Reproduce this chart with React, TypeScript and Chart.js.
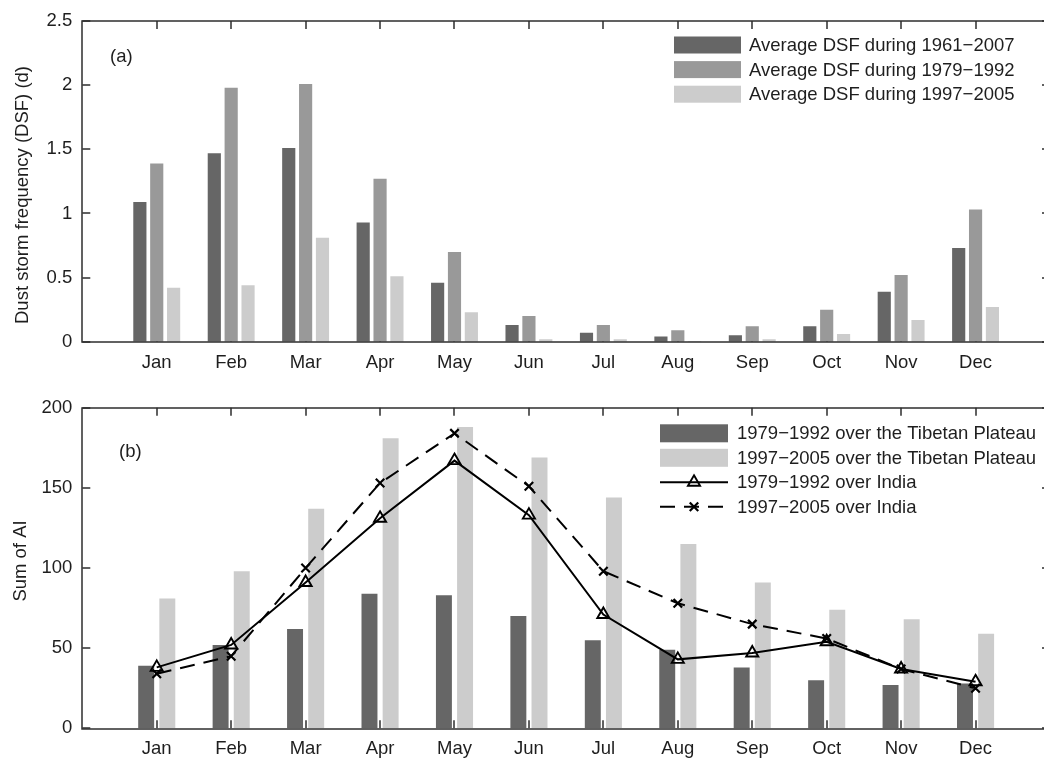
import React, { useEffect, useRef } from 'react';
import { Chart, registerables } from 'chart.js';

Chart.register(...registerables);

// ---------- data ----------
const months = ['Jan', 'Feb', 'Mar', 'Apr', 'May', 'Jun', 'Jul', 'Aug', 'Sep', 'Oct', 'Nov', 'Dec'];
const xLabels = ['', ...months, ''];

// Panel (a): average dust storm frequency (d)
const dsf1961to2007 = [1.09, 1.47, 1.51, 0.93, 0.46, 0.13, 0.07, 0.04, 0.05, 0.12, 0.39, 0.73];
const dsf1979to1992 = [1.39, 1.98, 2.01, 1.27, 0.70, 0.20, 0.13, 0.09, 0.12, 0.25, 0.52, 1.03];
const dsf1997to2005 = [0.42, 0.44, 0.81, 0.51, 0.23, 0.02, 0.02, 0.005, 0.02, 0.06, 0.17, 0.27];
const dsfTickStep = 0.5;
const dsfMax = 2.5;

// Panel (b): sum of AI
const aiTibet1979to1992 = [39, 52, 62, 84, 83, 70, 55, 49, 38, 30, 27, 28];
const aiTibet1997to2005 = [81, 98, 137, 181, 188, 169, 144, 115, 91, 74, 68, 59];
const aiIndia1979to1992 = [38, 52, 91, 131, 167, 133, 71, 43, 47, 54, 37, 29];
const aiIndia1997to2005 = [34, 45, 100, 153, 184, 151, 98, 78, 65, 56, 37, 25];
const aiTickStep = 50;
const aiMax = 200;

const legendA = ['Average DSF during 1961\u22122007', 'Average DSF during 1979\u22121992', 'Average DSF during 1997\u22122005'];
const legendB = ['1979\u22121992 over the Tibetan Plateau', '1997\u22122005 over the Tibetan Plateau', '1979\u22121992 over India', '1997\u22122005 over India'];

// ---------- styles ----------
const FONT = '"Liberation Sans", Arial, Helvetica, sans-serif';
const FONT_SIZE = 18.5;
const TEXT = '#1e1e1e';
const AXIS = '#2e2e2e';
const DARK = '#666666';
const MID = '#999999';
const LIGHT = '#cccccc';
const DASH = [15, 9];
const TICK_LEN = 8;
const AXIS_W = 1.5;

const pad = (arr: number[]) => [null, ...arr, null];

function drawMarker(ctx: CanvasRenderingContext2D, style: string, x: number, y: number, r: number) {
  ctx.beginPath();
  if (style === 'triangle') {
    let rad = 0;
    ctx.moveTo(x + Math.sin(rad) * r, y - Math.cos(rad) * r);
    rad += (2 * Math.PI) / 3;
    ctx.lineTo(x + Math.sin(rad) * r, y - Math.cos(rad) * r);
    rad += (2 * Math.PI) / 3;
    ctx.lineTo(x + Math.sin(rad) * r, y - Math.cos(rad) * r);
    ctx.closePath();
  } else {
    const o = Math.cos(Math.PI / 4) * r;
    ctx.moveTo(x - o, y - o);
    ctx.lineTo(x + o, y + o);
    ctx.moveTo(x + o, y - o);
    ctx.lineTo(x - o, y + o);
  }
  ctx.stroke();
}

const framePlugin = {
  id: 'matlabFrame',
  beforeDatasetsDraw(chart: any) {
    // bottom inward ticks sit beneath the bars
    const { ctx, chartArea: a, scales } = chart;
    const x = scales.x;
    ctx.save();
    ctx.strokeStyle = AXIS;
    ctx.lineWidth = AXIS_W;
    ctx.beginPath();
    for (let i = 1; i <= months.length; i++) {
      const px = Math.round(x.getPixelForValue(i));
      ctx.moveTo(px, a.bottom);
      ctx.lineTo(px, a.bottom - TICK_LEN);
    }
    ctx.stroke();
    ctx.restore();
  },
  afterDatasetsDraw(chart: any) {
    const { ctx, chartArea: a, scales } = chart;
    const x = scales.x;
    const y = scales.y;
    ctx.save();
    ctx.strokeStyle = AXIS;
    ctx.lineWidth = AXIS_W;
    ctx.beginPath();
    for (let i = 1; i <= months.length; i++) {
      const px = Math.round(x.getPixelForValue(i));
      ctx.moveTo(px, a.top);
      ctx.lineTo(px, a.top + TICK_LEN);
    }
    y.ticks.forEach((t: any) => {
      const py = Math.round(y.getPixelForValue(t.value));
      ctx.moveTo(a.left, py);
      ctx.lineTo(a.left + TICK_LEN, py);
      ctx.moveTo(a.right, py);
      ctx.lineTo(a.right - TICK_LEN, py);
    });
    ctx.stroke();
    ctx.strokeRect(Math.round(a.left), Math.round(a.top), Math.round(a.right - a.left), Math.round(a.bottom - a.top));
    ctx.restore();
  },
};

const textPlugin = {
  id: 'panelText',
  afterDraw(chart: any, _args: any, opts: any) {
    const { ctx } = chart;
    ctx.save();
    ctx.font = `${FONT_SIZE}px ${FONT}`;
    ctx.fillStyle = TEXT;
    if (opts.yTitle) {
      ctx.save();
      ctx.translate(opts.yTitle.x, opts.yTitle.y);
      ctx.rotate(-Math.PI / 2);
      ctx.textAlign = 'center';
      ctx.textBaseline = 'alphabetic';
      ctx.fillText(opts.yTitle.text, 0, 0);
      ctx.restore();
    }
    if (opts.panel) {
      ctx.textAlign = 'left';
      ctx.textBaseline = 'middle';
      ctx.fillText(opts.panel.text, opts.panel.x, opts.panel.y);
    }
    if (opts.legend) {
      const L = opts.legend;
      L.items.forEach((it: any, i: number) => {
        const cy = L.y + i * L.dy;
        if (it.kind === 'box') {
          ctx.fillStyle = it.color;
          ctx.fillRect(L.x, cy - L.boxH / 2, L.boxW, L.boxH);
        } else {
          ctx.strokeStyle = '#000';
          ctx.lineWidth = 2;
          ctx.setLineDash(it.dash || []);
          ctx.beginPath();
          ctx.moveTo(L.x, cy);
          ctx.lineTo(L.x + L.boxW, cy);
          ctx.stroke();
          ctx.setLineDash([]);
          ctx.lineWidth = it.markerWidth;
          drawMarker(ctx, it.marker, L.x + L.boxW / 2, cy, it.radius);
        }
        ctx.fillStyle = TEXT;
        ctx.textAlign = 'left';
        ctx.textBaseline = 'middle';
        ctx.fillText(it.text, L.textX, cy + 1);
      });
    }
    ctx.restore();
  },
};

function xScale(height: number) {
  return {
    type: 'category',
    offset: false,
    grid: { display: false, drawTicks: false },
    border: { display: false },
    ticks: { autoSkip: false, maxRotation: 0, minRotation: 0, padding: 10, color: TEXT, font: { family: FONT, size: FONT_SIZE } },
    afterFit: (s: any) => {
      s.height = height;
    },
  };
}

function yScale(max: number, step: number) {
  return {
    min: 0,
    max,
    grid: { display: false, drawTicks: false },
    border: { display: false },
    ticks: {
      stepSize: step,
      padding: 10,
      color: TEXT,
      font: { family: FONT, size: FONT_SIZE },
      callback: (v: any) => String(Math.round(Number(v) * 100) / 100),
    },
    afterFit: (s: any) => {
      s.width = 82.3;
    },
  };
}

function topConfig(): any {
  return {
    type: 'bar',
    data: {
      labels: xLabels,
      datasets: [
        { label: legendA[0], data: pad(dsf1961to2007), backgroundColor: DARK },
        { label: legendA[1], data: pad(dsf1979to1992), backgroundColor: MID },
        { label: legendA[2], data: pad(dsf1997to2005), backgroundColor: LIGHT },
      ],
    },
    options: {
      animation: false,
      responsive: false,
      events: [],
      layout: { padding: { left: 0, top: 18.3, right: 7.4, bottom: 0 } },
      datasets: { bar: { categoryPercentage: 0.68, barPercentage: 0.78 } },
      plugins: {
        legend: { display: false },
        tooltip: { enabled: false },
        panelText: {
          yTitle: { text: 'Dust storm frequency (DSF) (d)', x: 28, y: 195 },
          panel: { text: '(a)', x: 110, y: 57 },
          legend: {
            x: 674,
            y: 45,
            dy: 24.6,
            boxW: 67,
            boxH: 17,
            textX: 749,
            items: [
              { kind: 'box', color: DARK, text: legendA[0] },
              { kind: 'box', color: MID, text: legendA[1] },
              { kind: 'box', color: LIGHT, text: legendA[2] },
            ],
          },
        },
      },
      scales: { x: xScale(33.3), y: yScale(dsfMax, dsfTickStep) },
    },
    plugins: [framePlugin, textPlugin],
  };
}

function bottomConfig(): any {
  return {
    type: 'bar',
    data: {
      labels: xLabels,
      datasets: [
        {
          type: 'line',
          label: legendB[2],
          data: pad(aiIndia1979to1992),
          borderColor: '#000',
          borderWidth: 2,
          pointStyle: 'triangle',
          pointRadius: 7,
          pointBorderWidth: 1.9,
          pointBorderColor: '#000',
          pointBackgroundColor: 'rgba(0,0,0,0)',
          fill: false,
          order: 0,
        },
        {
          type: 'line',
          label: legendB[3],
          data: pad(aiIndia1997to2005),
          borderColor: '#000',
          borderWidth: 2,
          borderDash: DASH,
          pointStyle: 'crossRot',
          pointRadius: 6,
          pointBorderWidth: 2.2,
          pointBorderColor: '#000',
          pointBackgroundColor: 'rgba(0,0,0,0)',
          fill: false,
          order: 0,
        },
        { label: legendB[0], data: pad(aiTibet1979to1992), backgroundColor: DARK, order: 1, categoryPercentage: 0.568, barPercentage: 0.755 },
        { label: legendB[1], data: pad(aiTibet1997to2005), backgroundColor: LIGHT, order: 1, categoryPercentage: 0.568, barPercentage: 0.755 },
      ],
    },
    options: {
      animation: false,
      responsive: false,
      events: [],
      layout: { padding: { left: 0, top: 32.7, right: 7.4, bottom: 0 } },
      plugins: {
        legend: { display: false },
        tooltip: { enabled: false },
        panelText: {
          yTitle: { text: 'Sum of AI', x: 26, y: 186 },
          panel: { text: '(b)', x: 119, y: 77 },
          legend: {
            x: 660,
            y: 58.3,
            dy: 24.5,
            boxW: 68,
            boxH: 18,
            textX: 737,
            items: [
              { kind: 'box', color: DARK, text: legendB[0] },
              { kind: 'box', color: LIGHT, text: legendB[1] },
              { kind: 'line', marker: 'triangle', radius: 7, markerWidth: 1.9, text: legendB[2] },
              { kind: 'line', marker: 'cross', radius: 6, markerWidth: 2.2, dash: DASH, text: legendB[3] },
            ],
          },
        },
      },
      scales: { x: xScale(30.7), y: yScale(aiMax, aiTickStep) },
    },
    plugins: [framePlugin, textPlugin],
  };
}

export default function App() {
  const topRef = useRef<HTMLCanvasElement>(null);
  const botRef = useRef<HTMLCanvasElement>(null);

  useEffect(() => {
    const c1 = new Chart(topRef.current as HTMLCanvasElement, topConfig());
    const c2 = new Chart(botRef.current as HTMLCanvasElement, bottomConfig());
    return () => {
      c1.destroy();
      c2.destroy();
    };
  }, []);

  return (
    <div style={{ position: 'absolute', left: 0, top: 0, width: 1044, height: 759, overflow: 'hidden', background: '#fff' }}>
      <canvas ref={topRef} width={1060} height={375} style={{ position: 'absolute', left: 0, top: 0, display: 'block' }} />
      <canvas ref={botRef} width={1060} height={384} style={{ position: 'absolute', left: 0, top: 375, display: 'block' }} />
    </div>
  );
}
